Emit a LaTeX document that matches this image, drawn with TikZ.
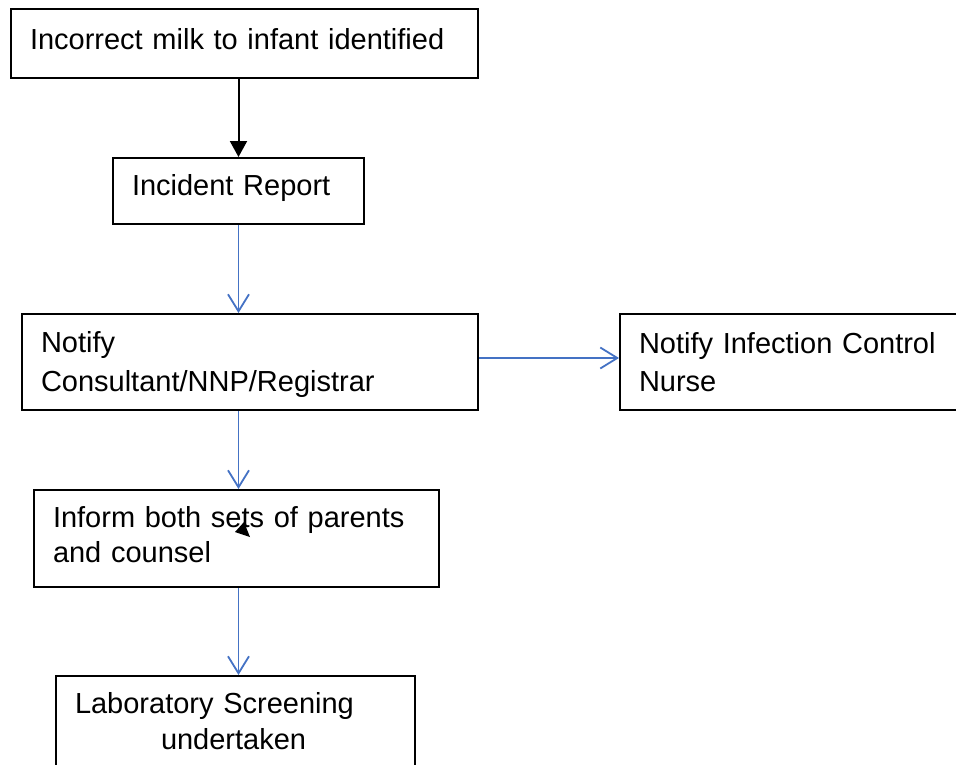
\documentclass[tikz,border=0pt]{standalone}
\usepackage{fontspec}
\setmainfont{Liberation Sans}
\usetikzlibrary{arrows.meta}
\definecolor{flowblue}{RGB}{68,114,196}
\tikzset{
	flowbox/.style={draw, line width=2pt, rectangle, anchor=north west, align=left,
		inner xsep=19pt, inner ysep=0pt},
	blackarrow/.style={line width=2pt, -{Triangle[width=17pt,length=16pt]}},
	bluearrow/.style={line width=1.8pt, color=flowblue, -{Straight Barb[width=21pt,length=17pt,line width=1.8pt]}}
}
\newcommand{\boxfont}[1]{\fontsize{29}{#1}\selectfont}

\begin{document}
\begin{tikzpicture}[x=1pt, y=-1pt]
			%%%%% START %%%%%
			\useasboundingbox (0, 0) rectangle (956, 764);
			
			\node[flowbox, font=\boxfont{39}, text width=429pt, text height=40pt, text depth=29pt] (milk) at (10, 8) {Incorrect milk to infant identified};
			\node[flowbox, font=\boxfont{39}, text width=213pt, text height=37pt, text depth=29pt] (report) at (112, 157) {Incident Report};
			\node[flowbox, font=\boxfont{39}, text width=418pt, text height=38pt, text depth=58pt] (consult) at (21, 313) {Notify\\Consultant/NNP/Registrar};
			\node[flowbox, font=\boxfont{38}, text width=322pt, text height=39pt, text depth=57pt] (infection) at (619, 313) {Notify Infection Control\\Nurse};
			\node[flowbox, font=\boxfont{35}, text width=367pt, text height=37pt, text depth=60pt] (parents) at (33, 489) {Inform both sets of parents\\and counsel};
			\node[flowbox, font=\boxfont{36}, text width=321pt, text height=37pt, text depth=80pt] (lab) at (55, 675) {Laboratory Screening\\\hspace*{86pt}undertaken};
			
			\draw[blackarrow] (report.north |- milk.south) -- (report.north);
			\draw[bluearrow] (report.south) -- (report.south |- consult.north);
			\draw[bluearrow] ([yshift=4pt]consult.east) -- ([yshift=4pt]consult.east -| infection.west);
			\draw[bluearrow] (report.south |- consult.south) -- (report.south |- parents.north);
			\draw[bluearrow] (report.south |- parents.south) -- (report.south |- lab.north);
			
			\fill (235, 532) -- (244, 522) -- (250, 537) -- cycle;
			%%%%% END %%%%%
\end{tikzpicture}
\end{document}
